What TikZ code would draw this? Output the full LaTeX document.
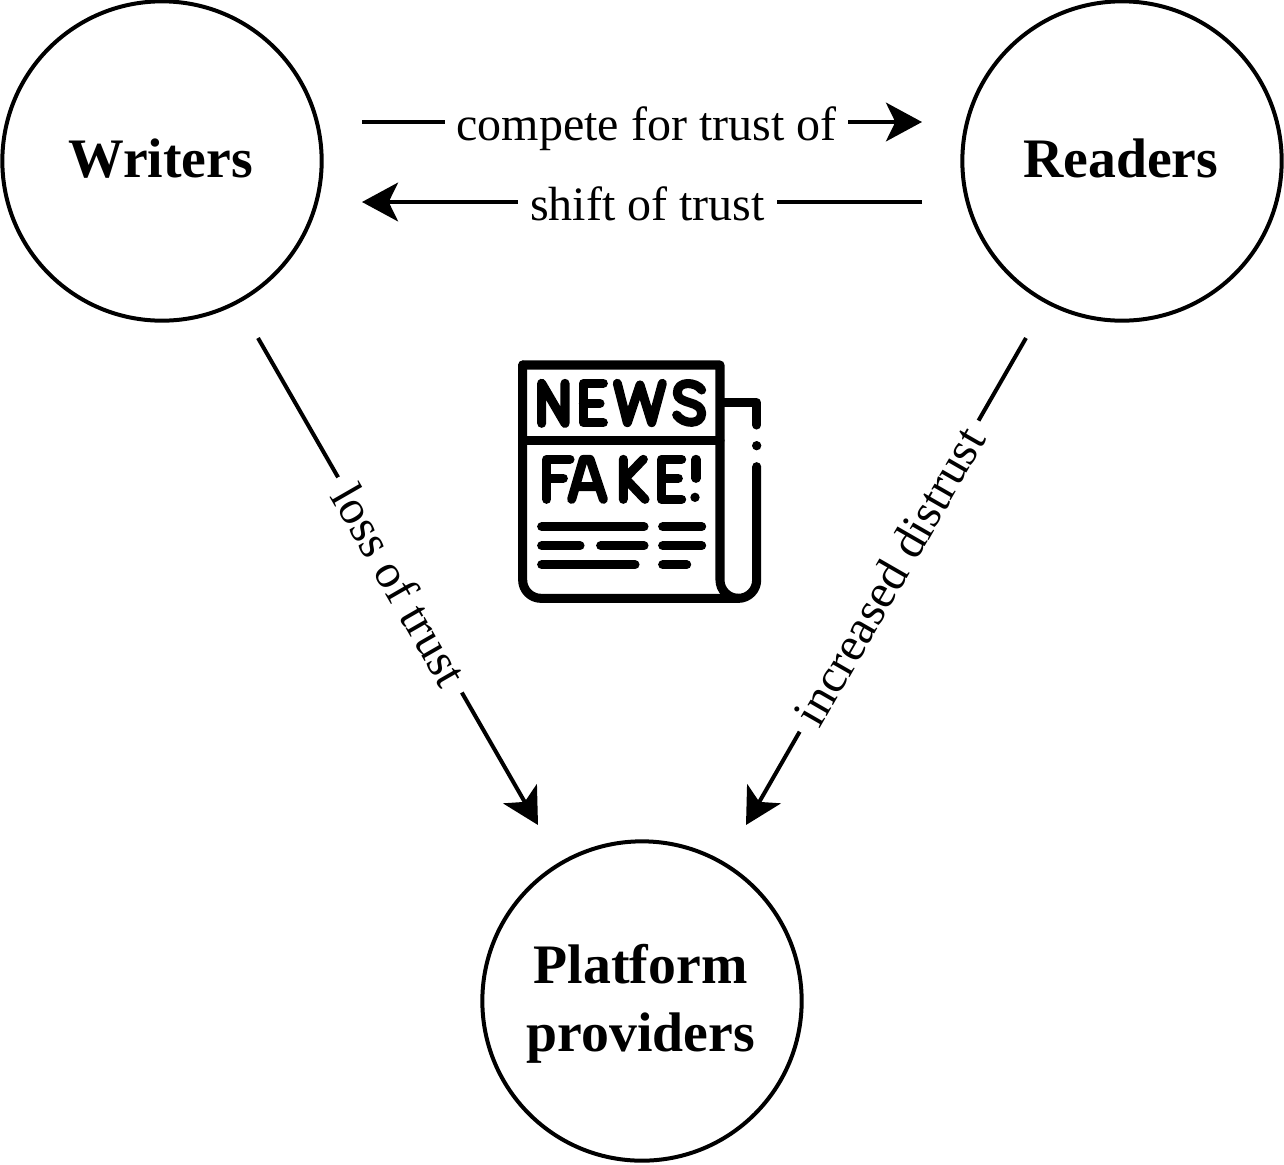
\documentclass[tikz,border=0pt]{standalone}
\usepackage{fontspec}
\setmainfont{Liberation Serif}
\usetikzlibrary{arrows.meta}
\tikzset{
  actor/.style={circle,draw=black,line width=3pt,minimum size=239.5pt,inner sep=0pt,align=center,
    font=\fontsize{41.8}{51}\selectfont\bfseries},
  flow/.style={draw=black,line width=3pt,-{Stealth[length=27pt,width=29pt,inset=7pt]}},
  flowlabel/.style={fill=white,inner xsep=9pt,inner ysep=1pt,font=\fontsize{36}{36}\selectfont},
  ink/.style={draw=black,line width=6.8pt,line cap=round,line join=round}
}
\begin{document}
\begin{tikzpicture}[x=0.75pt,y=-0.75pt]
\useasboundingbox (0,0) rectangle (1284,1164);
\fill[white] (0,0) rectangle (1284,1164);
\node[actor] (writers) at (162,161) {Writers\rule[-5pt]{0pt}{0pt}\kern2pt};
\node[actor] (readers) at (1122,161) {Readers\rule[-5pt]{0pt}{0pt}\kern2pt};
\node[actor] (platform) at (642,1001) {\rule{0pt}{34pt}Platform\kern2pt\\providers\kern2pt};
\coordinate (a1) at (362,122);
\coordinate (a2) at (922,122);
\coordinate (b1) at (922,202);
\coordinate (b2) at (362,202);
\coordinate (c1) at (258,338);
\coordinate (c2) at (538,825);
\coordinate (d1) at (1026,338);
\coordinate (d2) at (746,825);
\draw[flow] (a1) -- node[flowlabel,pos=0.508,yshift=-5.2pt] (l1) {compete for trust of} (a2);
\draw[flow] (b1) -- node[flowlabel,pos=0.49,yshift=-1.5pt] (l2) {shift of trust} (b2);
\draw[flow] (c1) -- node[flowlabel,sloped,pos=0.507] (l3) {loss of trust} (c2);
\draw[flow] (d1) -- node[flowlabel,sloped,pos=0.489] (l4) {increased distrust} (d2);
% newspaper icon
\begin{scope}[shift={(500,340)},scale=1/3]
\draw[ink] (68,75) -- (660,75) -- (660,720) arc[start angle=180,end angle=270,x radius=55,y radius=-55];
\draw[ink] (68,75) -- (68,720) arc[start angle=180,end angle=270,x radius=55,y radius=-55] -- (715,775)
  arc[start angle=270,end angle=360,x radius=55,y radius=-55] -- (770,380);
\draw[ink] (68,302) -- (660,302);
\draw[ink] (672,188) -- (770,188) -- (770,255);
\fill (770,317) circle[radius=14];
% NEWS
\draw[ink] (125,250) -- (125,130) -- (195,250) -- (195,130);
\draw[ink] (310,130) -- (250,130) -- (250,248) -- (310,248) (250,190) -- (300,190);
\draw[ink] (352,130) -- (382,248) -- (420,135) -- (455,248) -- (487,130);
\draw[ink] (605,150) .. controls (590,125) and (530,120) .. (532,160)
  .. controls (534,195) and (605,180) .. (605,220)
  .. controls (605,255) and (550,255) .. (530,225);
% FAKE!
\draw[ink] (210,358) -- (140,358) -- (140,478) (140,415) -- (190,415);
\draw[ink] (215,478) -- (250,358) -- (270,358) -- (310,478) (235,440) -- (290,440);
\draw[ink] (370,358) -- (370,478) (430,358) -- (375,415) -- (435,478);
\draw[ink] (545,358) -- (485,358) -- (485,478) -- (545,478) (485,415) -- (535,415);
\draw[ink] (588,358) -- (588,415);
\fill (585,472) circle[radius=14];
% text lines
\draw[ink] (125,560) -- (432,560) (488,560) -- (605,560);
\draw[ink] (125,617) -- (240,617) (302,617) -- (432,617) (488,617) -- (605,617);
\draw[ink] (125,674) -- (405,674) (488,674) -- (560,674);
\end{scope}
\end{tikzpicture}
\end{document}
